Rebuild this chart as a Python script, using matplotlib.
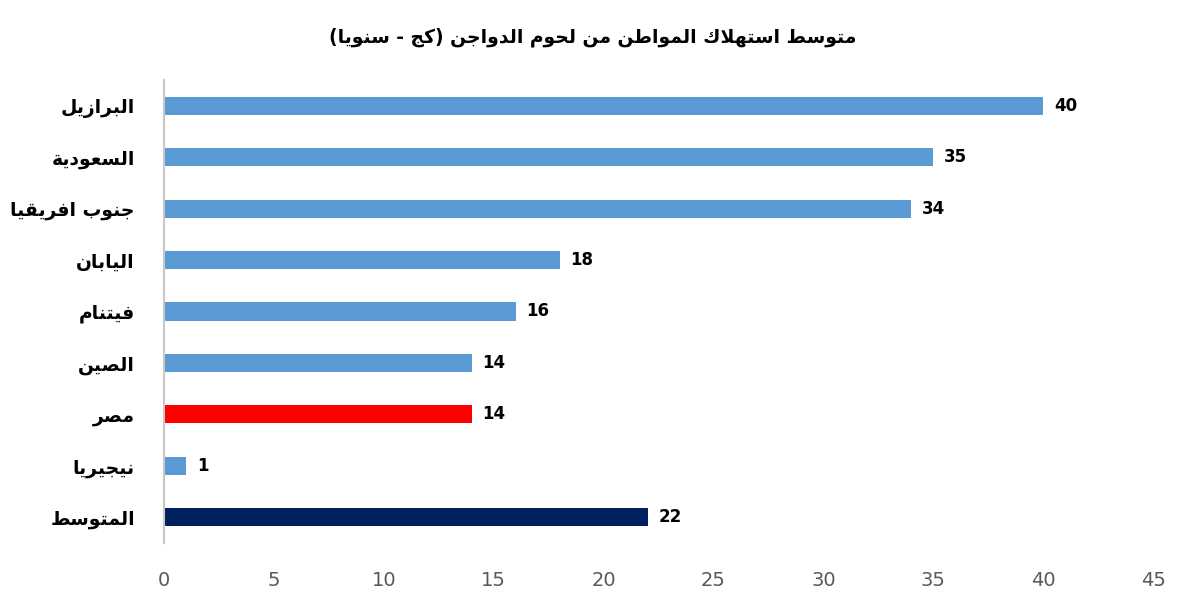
import matplotlib
matplotlib.use("Agg")
import matplotlib.pyplot as plt

title = "متوسط استهلاك المواطن من لحوم الدواجن (كج - سنويا)"
categories = ["البرازيل", "السعودية", "جنوب افريقيا", "اليابان", "فيتنام",
              "الصين", "مصر", "نيجيريا", "المتوسط"]
values = [40, 35, 34, 18, 16, 14, 14, 1, 22]
colors = ["#5B9BD5", "#5B9BD5", "#5B9BD5", "#5B9BD5", "#5B9BD5",
          "#5B9BD5", "#FF0000", "#5B9BD5", "#002060"]
xticks = [0, 5, 10, 15, 20, 25, 30, 35, 40, 45]

# ---- minimal Arabic shaping (presentation forms) + visual reordering ----
FORMS = {  # iso, fin, ini, med
    'ا': (0xFE8D, 0xFE8E, None, None), 'ب': (0xFE8F, 0xFE90, 0xFE91, 0xFE92),
    'ة': (0xFE93, 0xFE94, None, None), 'ت': (0xFE95, 0xFE96, 0xFE97, 0xFE98),
    'ث': (0xFE99, 0xFE9A, 0xFE9B, 0xFE9C), 'ج': (0xFE9D, 0xFE9E, 0xFE9F, 0xFEA0),
    'ح': (0xFEA1, 0xFEA2, 0xFEA3, 0xFEA4), 'خ': (0xFEA5, 0xFEA6, 0xFEA7, 0xFEA8),
    'د': (0xFEA9, 0xFEAA, None, None), 'ذ': (0xFEAB, 0xFEAC, None, None),
    'ر': (0xFEAD, 0xFEAE, None, None), 'ز': (0xFEAF, 0xFEB0, None, None),
    'س': (0xFEB1, 0xFEB2, 0xFEB3, 0xFEB4), 'ش': (0xFEB5, 0xFEB6, 0xFEB7, 0xFEB8),
    'ص': (0xFEB9, 0xFEBA, 0xFEBB, 0xFEBC), 'ض': (0xFEBD, 0xFEBE, 0xFEBF, 0xFEC0),
    'ط': (0xFEC1, 0xFEC2, 0xFEC3, 0xFEC4), 'ظ': (0xFEC5, 0xFEC6, 0xFEC7, 0xFEC8),
    'ع': (0xFEC9, 0xFECA, 0xFECB, 0xFECC), 'غ': (0xFECD, 0xFECE, 0xFECF, 0xFED0),
    'ف': (0xFED1, 0xFED2, 0xFED3, 0xFED4), 'ق': (0xFED5, 0xFED6, 0xFED7, 0xFED8),
    'ك': (0xFED9, 0xFEDA, 0xFEDB, 0xFEDC), 'ل': (0xFEDD, 0xFEDE, 0xFEDF, 0xFEE0),
    'م': (0xFEE1, 0xFEE2, 0xFEE3, 0xFEE4), 'ن': (0xFEE5, 0xFEE6, 0xFEE7, 0xFEE8),
    'ه': (0xFEE9, 0xFEEA, 0xFEEB, 0xFEEC), 'و': (0xFEED, 0xFEEE, None, None),
    'ى': (0xFEEF, 0xFEF0, None, None), 'ي': (0xFEF1, 0xFEF2, 0xFEF3, 0xFEF4),
}
LAMALEF = (0xFEFB, 0xFEFC)


def dual(c):
    return c in FORMS and FORMS[c][2] is not None


def shape(text):
    out = []
    chars = list(text)
    i = 0
    n = len(chars)
    while i < n:
        c = chars[i]
        prev = chars[i - 1] if i > 0 else ''
        if c == 'ل' and i + 1 < n and chars[i + 1] == 'ا':
            out.append(chr(LAMALEF[1] if dual(prev) else LAMALEF[0]))
            i += 2
            continue
        if c in FORMS:
            nxt = chars[i + 1] if i + 1 < n else ''
            jp = dual(prev)
            jn = dual(c) and nxt in FORMS
            f = FORMS[c]
            if jp and jn:
                out.append(chr(f[3]))
            elif jp:
                out.append(chr(f[1]))
            elif jn:
                out.append(chr(f[2]))
            else:
                out.append(chr(f[0]))
        else:
            out.append(c)
        i += 1
    vis = ''.join(reversed(out))
    vis = vis.translate(str.maketrans({'(': ')', ')': '('}))
    return vis


W, H = 1187, 613
fig = plt.figure(figsize=(W / 100, H / 100), dpi=100)
ax = fig.add_axes([164 / W, 1 - 543 / H, (1153 - 164) / W, (543 - 80) / H])

y = list(range(len(categories)))
ax.barh(y, values, height=0.35, color=colors, zorder=2)
ax.set_ylim(len(categories) - 0.5, -0.5)
ax.set_xlim(0, 45)
ax.set_xticks(xticks)
ax.set_xticklabels([str(t) for t in xticks])
ax.set_yticks(y)
ax.set_yticklabels([shape(c) for c in categories], fontsize=13.5,
                   fontweight='bold', family='DejaVu Sans', color='black')
ax.tick_params(axis='y', length=0, pad=21)
ax.tick_params(axis='x', length=0, pad=20, labelsize=14, labelcolor='#595959')

for s in ['top', 'right', 'bottom']:
    ax.spines[s].set_visible(False)
ax.spines['left'].set_color('#C8C8C8')
ax.spines['left'].set_linewidth(1.5)

for yi, v in zip(y, values):
    ax.text(v + 0.5, yi, str(v), va='center', ha='left', fontsize=12,
            fontweight='bold', color='black')

fig.text(593 / W, 1 - 37 / H, shape(title), ha='center', va='center',
         fontsize=13.5, fontweight='bold', family='DejaVu Sans')

fig.savefig("out.png", dpi=100, facecolor='white')
